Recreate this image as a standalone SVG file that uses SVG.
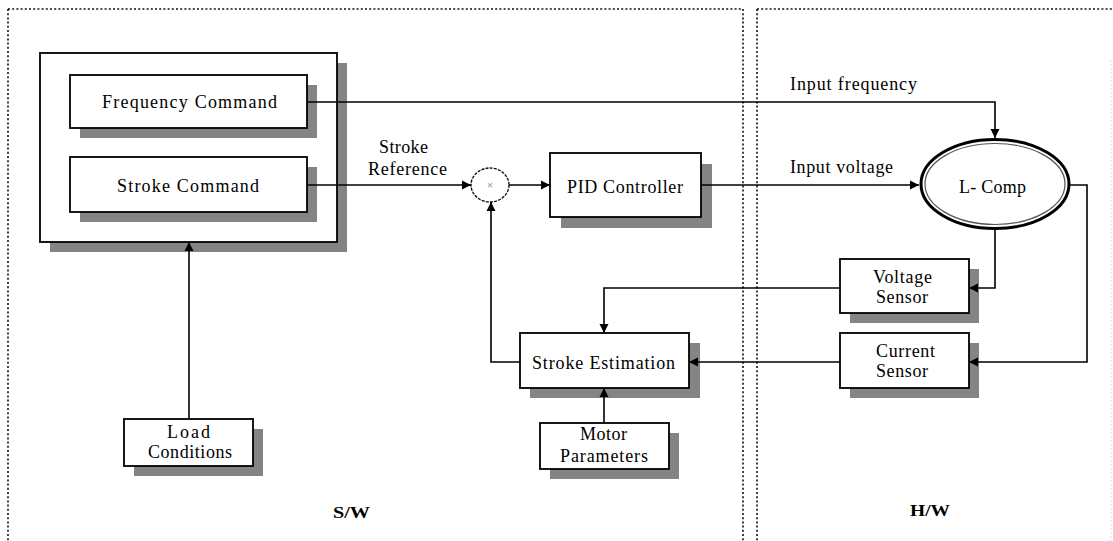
<svg xmlns="http://www.w3.org/2000/svg" width="1113" height="541" viewBox="0 0 1113 541">
<defs>
<style>
.box{fill:#fff;stroke:#000;stroke-width:1.8}
.sh{fill:#848484}
.lbl{font-family:"Liberation Serif",serif;font-size:18px;fill:#000}
.ln{fill:none;stroke:#000;stroke-width:1.6}
.dot{fill:none;stroke:#111;stroke-width:1.6;stroke-dasharray:2 2.2}
.bold{font-family:"Liberation Serif",serif;font-size:17px;font-weight:bold;fill:#000}
</style>
<marker id="ah" markerUnits="userSpaceOnUse" markerWidth="10" markerHeight="10" refX="9" refY="5" orient="auto">
<path d="M0,0.5 L9,5 L0,9.5 z" fill="#000"/>
</marker>
</defs>
<rect x="0" y="0" width="1113" height="541" fill="#fff"/>
<g id="frame">
<path class="dot" d="M8,9 H743 M757,9 H1113 M8,9 V541 M743,9 V541 M757,9 V541"/>
<path d="M1111,60 V541" stroke="#ddd" stroke-width="1" stroke-dasharray="2 2"/>
</g>
<g id="command-group">
<rect class="sh" x="50" y="63" width="297" height="189"/>
<rect class="box" x="40" y="53" width="297" height="189"/>
</g>
<g id="frequency-command">
<rect class="sh" x="80" y="85" width="237" height="53"/>
<rect class="box" x="70" y="75" width="237" height="53"/>
<text class="lbl" x="102" y="108" textLength="175" lengthAdjust="spacing">Frequency Command</text>
</g>
<g id="stroke-command">
<rect class="sh" x="80" y="167" width="237" height="55"/>
<rect class="box" x="70" y="157" width="237" height="55"/>
<text class="lbl" x="117" y="192" textLength="142" lengthAdjust="spacing">Stroke Command</text>
</g>
<g id="sum">
<ellipse cx="490" cy="185" rx="19" ry="17" fill="#fff" stroke="#111" stroke-width="1.4" stroke-dasharray="3 1.2"/>
<text x="490" y="189" text-anchor="middle" font-family="Liberation Sans, sans-serif" font-size="11" fill="#999">×</text>
</g>
<g id="pid-controller">
<rect class="sh" x="561" y="164" width="151" height="64"/>
<rect class="box" x="550" y="153" width="151" height="64"/>
<text class="lbl" x="567" y="193" textLength="116" lengthAdjust="spacing">PID Controller</text>
</g>
<g id="l-comp">
<ellipse cx="995" cy="184" rx="74" ry="44.5" fill="#fff" stroke="#000" stroke-width="3"/>
<ellipse cx="995" cy="184" rx="70" ry="40.5" fill="none" stroke="#555" stroke-width="1.2"/>
<text class="lbl" x="959" y="193" textLength="67" lengthAdjust="spacing">L- Comp</text>
</g>
<g id="voltage-sensor">
<rect class="sh" x="850" y="269" width="129" height="54"/>
<rect class="box" x="840" y="259" width="129" height="54"/>
<text class="lbl" x="873" y="283" textLength="59" lengthAdjust="spacing">Voltage</text>
<text class="lbl" x="876" y="303" textLength="52" lengthAdjust="spacing">Sensor</text>
</g>
<g id="current-sensor">
<rect class="sh" x="850" y="343" width="129" height="55"/>
<rect class="box" x="840" y="333" width="129" height="55"/>
<text class="lbl" x="876" y="357" textLength="59" lengthAdjust="spacing">Current</text>
<text class="lbl" x="876" y="377" textLength="52" lengthAdjust="spacing">Sensor</text>
</g>
<g id="stroke-estimation">
<rect class="sh" x="530" y="343" width="170" height="55"/>
<rect class="box" x="520" y="333" width="169" height="55"/>
<text class="lbl" x="532" y="369" textLength="143" lengthAdjust="spacing">Stroke Estimation</text>
</g>
<g id="motor-parameters">
<rect class="sh" x="550" y="433" width="129" height="46"/>
<rect class="box" x="540" y="423" width="129" height="46"/>
<text class="lbl" x="580" y="440" textLength="47" lengthAdjust="spacing">Motor</text>
<text class="lbl" x="560" y="462" textLength="88" lengthAdjust="spacing">Parameters</text>
</g>
<g id="load-conditions">
<rect class="sh" x="134" y="429" width="129" height="47"/>
<rect class="box" x="124" y="419" width="129" height="47"/>
<text class="lbl" x="167" y="438" textLength="43" lengthAdjust="spacing">Load</text>
<text class="lbl" x="148" y="458" textLength="84" lengthAdjust="spacing">Conditions</text>
</g>
<g id="connectors">
<path class="ln" d="M307,102 H995 V138" marker-end="url(#ah)"/>
<path class="ln" d="M307,185 H471" marker-end="url(#ah)"/>
<path class="ln" d="M509,185 H550" marker-end="url(#ah)"/>
<path class="ln" d="M701,185 H919" marker-end="url(#ah)"/>
<path class="ln" d="M1069,185 H1087 V362 H969" marker-end="url(#ah)"/>
<path class="ln" d="M995,229 V288 H969" marker-end="url(#ah)"/>
<path class="ln" d="M840,288 H604 V333" marker-end="url(#ah)"/>
<path class="ln" d="M840,362 H689" marker-end="url(#ah)"/>
<path class="ln" d="M520,362 H491 V202" marker-end="url(#ah)"/>
<path class="ln" d="M604,423 V388" marker-end="url(#ah)"/>
<path class="ln" d="M189,419 V242" marker-end="url(#ah)"/>
</g>
<g id="labels">
<text class="lbl" x="379" y="153" textLength="49" lengthAdjust="spacing">Stroke</text>
<text class="lbl" x="368" y="175" textLength="79" lengthAdjust="spacing">Reference</text>
<text class="lbl" x="790" y="90" textLength="127" lengthAdjust="spacing">Input frequency</text>
<text class="lbl" x="790" y="173" textLength="103" lengthAdjust="spacing">Input voltage</text>
<text class="bold" x="333" y="518" textLength="37" lengthAdjust="spacingAndGlyphs">S/W</text>
<text class="bold" x="910" y="516" textLength="40" lengthAdjust="spacingAndGlyphs">H/W</text>
</g>
</svg>
